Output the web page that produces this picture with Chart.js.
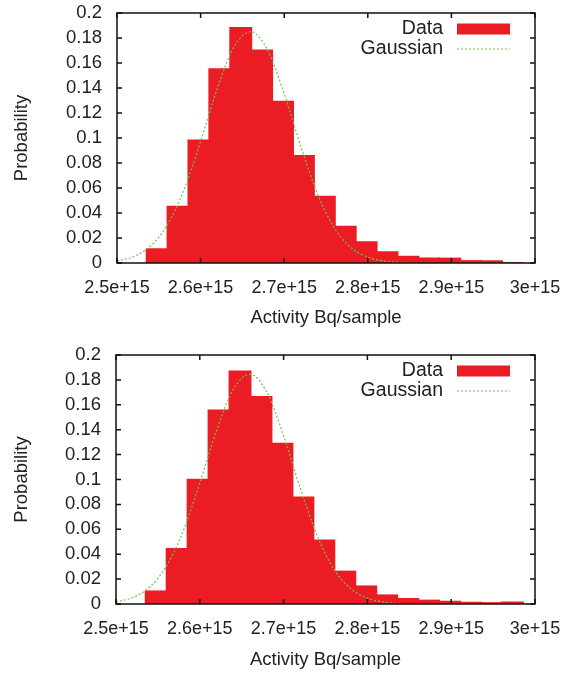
<!DOCTYPE html>
<html>
<head>
<meta charset="utf-8">
<script src="https://cdn.jsdelivr.net/npm/chart.js@4/dist/chart.umd.min.js"></script>
<style>
    html, body { margin: 0; padding: 0; background: #fff; }
    .panel { position: absolute; left: 0; width: 578px; }
    #topPanel { top: 0; height: 340px; }
    #bottomPanel { top: 341px; height: 336px; }
</style>
</head>
<body>
<div class="panel" id="topPanel"><canvas id="topChart"></canvas></div>
<div class="panel" id="bottomPanel"><canvas id="bottomChart"></canvas></div>
<script>
// ===== 数据 =====
// 直方图各箱中心 (Bq/sample)
const binCenters = [2.548e15, 2.573e15, 2.598e15, 2.623e15, 2.648e15, 2.673e15, 2.698e15, 2.723e15, 2.748e15,
                    2.773e15, 2.798e15, 2.823e15, 2.848e15, 2.873e15, 2.898e15, 2.923e15, 2.948e15, 2.973e15];
const topProb = [0.011, 0.045, 0.098, 0.155, 0.188, 0.170, 0.129, 0.0856, 0.053,
                 0.029, 0.0166, 0.0086, 0.005, 0.0036, 0.0035, 0.0015, 0.0014, 0];
const bottomProb = [0.0101, 0.0442, 0.0998, 0.1555, 0.1868, 0.1663, 0.1287, 0.0856, 0.0511,
                    0.026, 0.0141, 0.0069, 0.004, 0.0027, 0.0018, 0.001, 0.0007, 0.0012];

// 高斯拟合曲线
const gaussX = [2.50e15, 2.52e15, 2.54e15, 2.56e15, 2.58e15, 2.60e15, 2.62e15, 2.64e15, 2.66e15, 2.68e15,
                2.70e15, 2.72e15, 2.74e15, 2.76e15, 2.78e15, 2.80e15, 2.82e15, 2.84e15, 2.86e15, 2.90e15, 3.00e15];
const topGauss = [0.0017, 0.0052, 0.0135, 0.0302, 0.0583, 0.0972, 0.1396, 0.173, 0.185, 0.1705,
                  0.1356, 0.093, 0.055, 0.028, 0.0123, 0.0047, 0.0015, 0.0004, 0.0001, 0, 0];
const bottomGauss = [0.0017, 0.0052, 0.0135, 0.0302, 0.0583, 0.0972, 0.1396, 0.1725, 0.1845, 0.170,
                     0.1352, 0.0928, 0.055, 0.028, 0.0123, 0.0047, 0.0015, 0.0004, 0.0001, 0, 0];

const xRange = [2.5e15, 3e15];
const yRange = [0, 0.2];
const xStep = 1e14;
const yStep = 0.02;

const FONT = '"Liberation Sans", Arial, Helvetica, sans-serif';
const TEXT = '#222';

// ===== 插件：边框 + 内向刻度 =====
const framePlugin = {
    id: 'frame',
    afterDraw(chart) {
        const { ctx, chartArea: a, scales: { x, y } } = chart;
        ctx.save();
        ctx.strokeStyle = '#111';
        ctx.lineWidth = 1.5;
        ctx.beginPath();
        x.ticks.forEach(t => {
            const px = x.getPixelForValue(t.value);
            ctx.moveTo(px, a.bottom); ctx.lineTo(px, a.bottom - 5);
            ctx.moveTo(px, a.top); ctx.lineTo(px, a.top + 5);
        });
        y.ticks.forEach(t => {
            const py = y.getPixelForValue(t.value);
            ctx.moveTo(a.left, py); ctx.lineTo(a.left + 5, py);
            ctx.moveTo(a.right, py); ctx.lineTo(a.right - 5, py);
        });
        ctx.stroke();
        ctx.strokeRect(a.left, a.top, a.right - a.left, a.bottom - a.top);
        ctx.restore();
    }
};

// ===== 插件：图内右上角图例 =====
const insideLegend = {
    id: 'insideLegend',
    afterDraw(chart) {
        const { ctx, chartArea: a } = chart;
        const textRight = a.right - 92, boxLeft = a.right - 78, boxRight = a.right - 25;
        ctx.save();
        ctx.font = '19.5px ' + FONT;
        ctx.textAlign = 'right';
        ctx.textBaseline = 'middle';
        chart.data.datasets.forEach((ds, i) => {
            const yy = a.top + 16 + i * 20;
            ctx.fillStyle = TEXT;
            ctx.fillText(ds.label, textRight, yy);
            if (ds.type === 'line') {
                ctx.strokeStyle = ds.borderColor;
                ctx.lineWidth = ds.borderWidth;
                ctx.setLineDash(ds.borderDash);
                ctx.beginPath();
                ctx.moveTo(boxLeft, yy); ctx.lineTo(boxRight, yy);
                ctx.stroke();
                ctx.setLineDash([]);
            } else {
                ctx.fillStyle = ds.backgroundColor;
                ctx.fillRect(boxLeft, yy - 5.5, boxRight - boxLeft, 11);
            }
        });
        ctx.restore();
    }
};

function makeChart(id, probs, gauss, padTop, xHeight, yWidth, titlePad) {
    return new Chart(document.getElementById(id), {
        type: 'bar',
        data: {
            datasets: [{
                label: 'Data',
                data: binCenters.map((c, i) => ({ x: c, y: probs[i] })),
                backgroundColor: '#ec1c24',
                borderWidth: 0,
                inflateAmount: 1,
                barPercentage: 1,
                categoryPercentage: 1,
                order: 1
            }, {
                type: 'line',
                label: 'Gaussian',
                data: gaussX.map((g, i) => ({ x: g, y: gauss[i] })),
                borderColor: '#6fc24f',
                borderWidth: 1.2,
                borderDash: [2, 2],
                pointRadius: 0,
                cubicInterpolationMode: 'monotone',
                fill: false,
                order: 0
            }]
        },
        options: {
            responsive: true,
            maintainAspectRatio: false,
            animation: false,
            layout: { padding: { top: padTop, right: 43, left: 0, bottom: 0 } },
            plugins: { legend: { display: false }, tooltip: { enabled: false } },
            scales: {
                x: {
                    type: 'linear',
                    offset: false,
                    min: xRange[0], max: xRange[1],
                    grid: { display: false, drawTicks: false },
                    border: { display: false },
                    ticks: {
                        stepSize: xStep,
                        autoSkip: false,
                        padding: 14,
                        color: TEXT,
                        font: { family: FONT, size: 18 },
                        maxRotation: 0,
                        callback: v => (+(v / 1e15).toFixed(1)) + 'e+15'
                    },
                    title: {
                        display: true,
                        text: 'Activity Bq/sample',
                        color: TEXT,
                        font: { family: FONT, size: 18.5 },
                        padding: { top: 0, bottom: titlePad }
                    },
                    afterFit: s => { s.height = xHeight; s.paddingLeft = 0; s.paddingRight = 0; }
                },
                y: {
                    min: yRange[0], max: yRange[1],
                    grid: { display: false, drawTicks: false },
                    border: { display: false },
                    ticks: {
                        stepSize: yStep,
                        autoSkip: false,
                        padding: 15,
                        color: TEXT,
                        font: { family: FONT, size: 18.5 },
                        callback: v => String(+v.toFixed(2))
                    },
                    title: {
                        display: true,
                        text: 'Probability',
                        color: TEXT,
                        font: { family: FONT, size: 18.5 },
                        padding: { top: 11, bottom: 0 }
                    },
                    afterFit: s => { s.width = yWidth; s.paddingTop = 0; s.paddingBottom = 0; }
                }
            }
        },
        plugins: [framePlugin, insideLegend]
    });
}

makeChart('topChart', topProb, topGauss, 13, 77, 117, 11);
makeChart('bottomChart', bottomProb, bottomGauss, 14, 73, 116, 6);
</script>
</body>
</html>
